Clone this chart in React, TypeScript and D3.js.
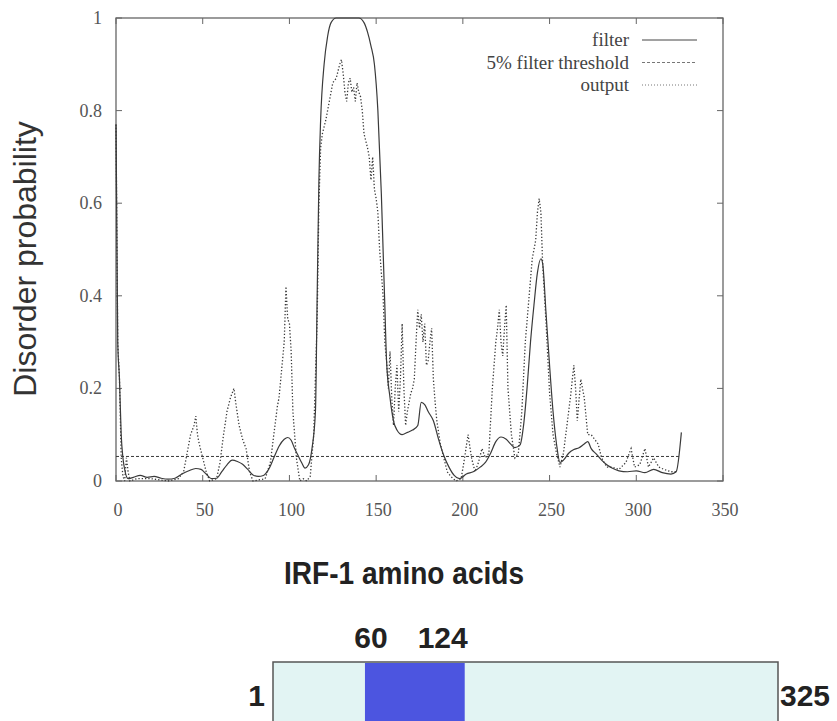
import React from 'react';
import * as d3 from 'd3';

// disorder profile (residue -> probability)
const filterResidues = [0, 1, 2, 3, 4, 5, 7, 10, 14, 18, 22, 26, 30, 34, 38, 42, 46, 49, 52, 55, 58, 61, 64, 67, 70, 73, 76, 79, 82, 85, 88, 91, 94, 97, 99, 101, 103, 105, 107, 109, 111, 113, 115, 116, 117, 118, 120, 122, 124, 127, 140, 143, 145, 147, 149, 151, 153, 154, 155, 156, 158, 160, 162, 165, 168, 171, 174, 176, 178, 180, 183, 186, 189, 192, 195, 198, 202, 206, 210, 213, 216, 219, 222, 225, 228, 230, 233, 235, 237, 239, 241, 243, 245, 246, 248, 250, 252, 254, 256, 258, 261, 264, 267, 270, 272, 274, 277, 280, 283, 286, 290, 295, 300, 305, 310, 315, 320, 323, 326];
const filterValues = [0.77, 0.30, 0.22, 0.10, 0.05, 0.025, 0.005, 0.008, 0.012, 0.008, 0.01, 0.006, 0.004, 0.006, 0.015, 0.022, 0.027, 0.025, 0.015, 0.005, 0.006, 0.02, 0.035, 0.045, 0.042, 0.036, 0.025, 0.013, 0.01, 0.012, 0.025, 0.05, 0.075, 0.09, 0.094, 0.088, 0.07, 0.055, 0.04, 0.028, 0.035, 0.07, 0.15, 0.4, 0.65, 0.78, 0.9, 0.96, 0.99, 1.0, 1.0, 0.99, 0.97, 0.94, 0.9, 0.8, 0.62, 0.5, 0.38, 0.26, 0.18, 0.13, 0.11, 0.1, 0.105, 0.11, 0.12, 0.17, 0.165, 0.15, 0.13, 0.09, 0.055, 0.03, 0.012, 0.005, 0.015, 0.02, 0.03, 0.04, 0.06, 0.085, 0.095, 0.09, 0.078, 0.072, 0.078, 0.12, 0.2, 0.3, 0.38, 0.45, 0.48, 0.47, 0.36, 0.25, 0.15, 0.08, 0.04, 0.045, 0.06, 0.068, 0.072, 0.08, 0.085, 0.07, 0.058, 0.045, 0.035, 0.028, 0.022, 0.02, 0.022, 0.018, 0.025, 0.018, 0.015, 0.02, 0.105];

const outputResidues = [0, 1, 2, 3, 4, 5, 6, 7, 8, 12, 20, 30, 36, 39, 41, 43, 45, 46, 47, 48, 50, 52, 54, 58, 60, 62, 64, 66, 68, 69, 71, 73, 75, 77, 79, 86, 89, 91, 93, 94, 96, 97, 98, 99, 100, 101, 102, 104, 106, 108, 110, 112, 114, 116, 117, 118, 119, 121, 123, 125, 127, 129, 130, 131, 132, 133, 134, 135, 136, 137, 138, 139, 140, 141, 142, 143, 145, 146, 147, 148, 149, 150, 151, 152, 153, 154, 155, 156, 157, 158, 159, 160, 161, 162, 163, 164, 165, 166, 167, 168, 169, 170, 171, 172, 173, 174, 175, 176, 177, 178, 179, 180, 181, 182, 183, 184, 185, 187, 189, 191, 193, 196, 199, 201, 203, 205, 207, 209, 211, 213, 215, 217, 219, 220, 221, 222, 223, 224, 225, 226, 228, 230, 232, 234, 236, 238, 240, 242, 243, 244, 245, 246, 248, 250, 252, 254, 256, 258, 260, 262, 264, 265, 266, 268, 270, 272, 274, 276, 278, 280, 283, 286, 290, 294, 297, 299, 302, 305, 307, 310, 313, 316, 320, 323];
const outputValues = [0.77, 0.3, 0.22, 0.05, 0.01, 0.0, 0.05, 0.02, 0.0, 0.005, 0.005, 0.0, 0.005, 0.02, 0.06, 0.1, 0.12, 0.14, 0.1, 0.08, 0.05, 0.02, 0.0, 0.005, 0.04, 0.1, 0.15, 0.18, 0.2, 0.17, 0.12, 0.09, 0.07, 0.02, 0.0, 0.005, 0.04, 0.1, 0.16, 0.18, 0.26, 0.3, 0.42, 0.35, 0.34, 0.28, 0.15, 0.05, 0.0, 0.005, 0.0, 0.01, 0.1, 0.35, 0.6, 0.72, 0.75, 0.78, 0.82, 0.86, 0.87, 0.9, 0.91, 0.88, 0.84, 0.82, 0.86, 0.87, 0.84, 0.85, 0.82, 0.86, 0.84, 0.83, 0.8, 0.75, 0.72, 0.7, 0.65, 0.7, 0.63, 0.61, 0.58, 0.5, 0.45, 0.4, 0.3, 0.26, 0.2, 0.28, 0.18, 0.12, 0.2, 0.25, 0.15, 0.22, 0.34, 0.2, 0.12, 0.15, 0.17, 0.19, 0.2, 0.22, 0.3, 0.37, 0.33, 0.36, 0.3, 0.34, 0.25, 0.26, 0.3, 0.33, 0.22, 0.17, 0.13, 0.08, 0.05, 0.02, 0.01, 0.0, 0.005, 0.05, 0.1, 0.05, 0.02, 0.04, 0.07, 0.05, 0.06, 0.2, 0.3, 0.33, 0.37, 0.3, 0.27, 0.33, 0.38, 0.2, 0.1, 0.05, 0.06, 0.15, 0.3, 0.39, 0.48, 0.52, 0.58, 0.61, 0.58, 0.47, 0.34, 0.19, 0.1, 0.06, 0.03, 0.06, 0.12, 0.18, 0.25, 0.2, 0.13, 0.22, 0.18, 0.1, 0.1, 0.09, 0.08, 0.05, 0.03, 0.03, 0.025, 0.04, 0.07, 0.03, 0.035, 0.07, 0.03, 0.05, 0.03, 0.025, 0.02, 0.02];

const thresholdValue = 0.053;
const thresholdSpan = [0, 325];

const xTicks = [0, 50, 100, 150, 200, 250, 300, 350];
const yTicks = [0, 0.2, 0.4, 0.6, 0.8, 1];
const legendLabels = ['filter', '5% filter threshold', 'output'];

// protein map below the plot
const proteinSpan = [1, 325];
const disorderedRegion = [60, 124];

const serif = '"Liberation Serif", "Times New Roman", serif';
const sans = '"Liberation Sans", Arial, sans-serif';
const ink = '#3a3a3a';

export default function App() {
  const left = 116, right = 723, top = 18, bottom = 481;
  const x = d3.scaleLinear([0, 350], [left, right]);
  const y = d3.scaleLinear([0, 1], [bottom, top]);
  const bar = d3.scaleLinear(proteinSpan, [273, 778]);

  const filterLine = d3.line<number>()
    .x((_, i) => x(filterResidues[i]))
    .y(d => y(d))
    .curve(d3.curveMonotoneX);
  const outputLine = d3.line<number>()
    .x((_, i) => x(outputResidues[i]))
    .y(d => y(d));

  const legendDash = ['none', '3,2', '1,2'];

  return (
    <svg width={837} height={721} style={{ position: 'absolute', left: 0, top: 0, background: '#fff' }}>
      {/* frame */}
      <rect x={left} y={top} width={right - left} height={bottom - top} fill="none" stroke="#666" strokeWidth={1.3} />

      {xTicks.map(t => (
        <g key={'x' + t}>
          <line x1={x(t)} x2={x(t)} y1={bottom} y2={bottom - 6} stroke="#666" />
          <line x1={x(t)} x2={x(t)} y1={top} y2={top + 6} stroke="#666" />
          <text x={x(t) + 2} y={516} textAnchor="middle" fontFamily={serif} fontSize={18} fill="#555">{t}</text>
        </g>
      ))}
      {yTicks.map(t => (
        <g key={'y' + t}>
          <line x1={left} x2={left + 6} y1={y(t)} y2={y(t)} stroke="#666" />
          <line x1={right} x2={right - 6} y1={y(t)} y2={y(t)} stroke="#666" />
          <text x={102} y={y(t) + 6} textAnchor="end" fontFamily={serif} fontSize={18} fill="#555">{t}</text>
        </g>
      ))}

      {/* series */}
      <line x1={x(thresholdSpan[0])} x2={x(thresholdSpan[1])} y1={y(thresholdValue)} y2={y(thresholdValue)}
        stroke={ink} strokeWidth={1} strokeDasharray="3,2" />
      <path d={outputLine(outputValues) ?? ''} fill="none" stroke={ink} strokeWidth={1.3} strokeDasharray="1.3,2" />
      <path d={filterLine(filterValues) ?? ''} fill="none" stroke={ink} strokeWidth={1.2} />

      {/* legend */}
      {legendLabels.map((l, i) => (
        <g key={l}>
          <text x={629} y={46 + i * 22.5} textAnchor="end" fontFamily={serif} fontSize={19} fill="#444">{l}</text>
          <line x1={642} x2={697} y1={40 + i * 22.5} y2={40 + i * 22.5} stroke={i === 0 ? '#444' : '#777'}
            strokeWidth={1} strokeDasharray={legendDash[i]} />
        </g>
      ))}

      {/* axis titles */}
      <text transform="rotate(-90)" x={-259} y={36} textAnchor="middle" fontFamily={sans} fontSize={32} fill="#333">
        Disorder probability
      </text>
      <text x={404} y={584} textAnchor="middle" fontFamily={sans} fontWeight="bold" fontSize={32} fill="#222"
        textLength={240} lengthAdjust="spacingAndGlyphs">IRF-1 amino acids</text>

      {/* protein map */}
      <rect x={bar(proteinSpan[0])} y={662} width={bar(proteinSpan[1]) - bar(proteinSpan[0])} height={80}
        fill="#e2f4f3" stroke="#555" strokeWidth={1.5} />
      <rect x={bar(disorderedRegion[0])} y={663} width={bar(disorderedRegion[1]) - bar(disorderedRegion[0])} height={80}
        fill="#4c55e0" />
      <text x={bar(disorderedRegion[0]) + 6} y={648} textAnchor="middle" fontFamily={sans} fontWeight="bold" fontSize={30} fill="#222">
        {disorderedRegion[0]}
      </text>
      <text x={bar(disorderedRegion[1]) - 22} y={648} textAnchor="middle" fontFamily={sans} fontWeight="bold" fontSize={30} fill="#222">
        {disorderedRegion[1]}
      </text>
      <text x={bar(proteinSpan[0]) - 8} y={706} textAnchor="end" fontFamily={sans} fontWeight="bold" fontSize={30} fill="#222">
        {proteinSpan[0]}
      </text>
      <text x={bar(proteinSpan[1]) + 2} y={706} textAnchor="start" fontFamily={sans} fontWeight="bold" fontSize={30} fill="#222">
        {proteinSpan[1]}
      </text>
    </svg>
  );
}
